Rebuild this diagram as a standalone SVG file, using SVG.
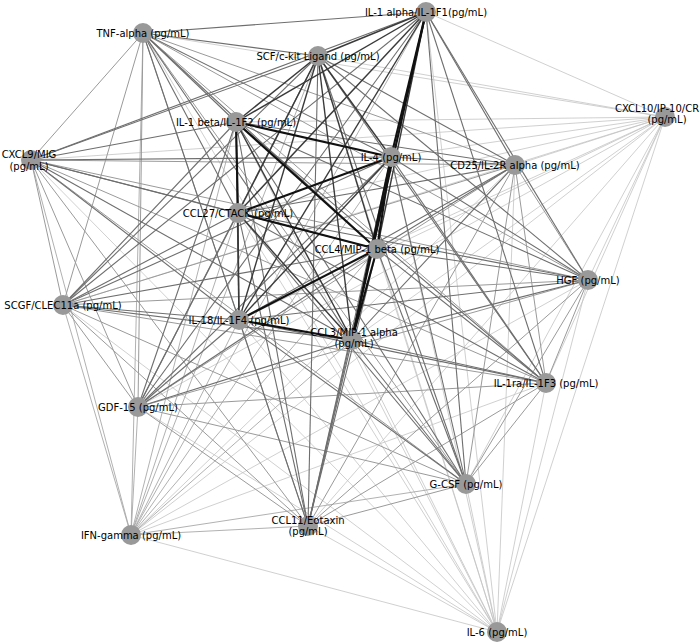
<svg xmlns="http://www.w3.org/2000/svg" width="700" height="644" viewBox="0 0 700 644">
<style>
.e0{stroke:#c4c4c4;stroke-width:0.8}
.ef{stroke:#a8a8a8;stroke-width:0.9}
.e1{stroke:#9a9a9a;stroke-width:1}
.e2{stroke:#6e6e6e;stroke-width:1.1}
.e3{stroke:#3a3a3a;stroke-width:1.4}
.e4{stroke:#111;stroke-width:2.1}
.n circle{fill:#999}
text{font-family:"DejaVu Sans","Liberation Sans",sans-serif;font-size:10px;fill:#000;text-anchor:middle}
</style>
<rect width="700" height="644" fill="#fff"/>
<g id="connectors">
<g class="e0">
<line x1="665" y1="117" x2="143" y2="33"/><line x1="665" y1="117" x2="426" y2="12"/><line x1="665" y1="117" x2="318" y2="56"/><line x1="665" y1="117" x2="236" y2="122"/><line x1="665" y1="117" x2="31" y2="160"/><line x1="665" y1="117" x2="391" y2="157"/><line x1="665" y1="117" x2="515" y2="165"/><line x1="665" y1="117" x2="238" y2="213"/><line x1="665" y1="117" x2="377" y2="249"/><line x1="665" y1="117" x2="588" y2="280"/><line x1="665" y1="117" x2="63" y2="305"/><line x1="665" y1="117" x2="239" y2="320"/><line x1="665" y1="117" x2="352" y2="340"/><line x1="665" y1="117" x2="546" y2="383"/><line x1="665" y1="117" x2="138" y2="407"/><line x1="665" y1="117" x2="466" y2="484"/><line x1="665" y1="117" x2="131" y2="535"/><line x1="665" y1="117" x2="308" y2="526"/><line x1="665" y1="117" x2="497" y2="632"/>
<line x1="497" y1="632" x2="143" y2="33"/><line x1="497" y1="632" x2="426" y2="12"/><line x1="497" y1="632" x2="318" y2="56"/><line x1="497" y1="632" x2="236" y2="122"/><line x1="497" y1="632" x2="31" y2="160"/><line x1="497" y1="632" x2="391" y2="157"/><line x1="497" y1="632" x2="515" y2="165"/><line x1="497" y1="632" x2="238" y2="213"/><line x1="497" y1="632" x2="377" y2="249"/><line x1="497" y1="632" x2="588" y2="280"/><line x1="497" y1="632" x2="63" y2="305"/><line x1="497" y1="632" x2="239" y2="320"/><line x1="497" y1="632" x2="352" y2="340"/><line x1="497" y1="632" x2="546" y2="383"/><line x1="497" y1="632" x2="138" y2="407"/><line x1="497" y1="632" x2="466" y2="484"/><line x1="497" y1="632" x2="308" y2="526"/>
<line x1="131" y1="535" x2="497" y2="632"/><line x1="131" y1="535" x2="546" y2="383"/><line x1="131" y1="535" x2="588" y2="280"/><line x1="131" y1="535" x2="515" y2="165"/>
</g>
<g class="ef">
<line x1="131" y1="535" x2="143" y2="33"/><line x1="131" y1="535" x2="426" y2="12"/><line x1="131" y1="535" x2="318" y2="56"/><line x1="131" y1="535" x2="236" y2="122"/><line x1="131" y1="535" x2="31" y2="160"/><line x1="131" y1="535" x2="391" y2="157"/><line x1="131" y1="535" x2="238" y2="213"/><line x1="131" y1="535" x2="377" y2="249"/><line x1="131" y1="535" x2="63" y2="305"/><line x1="131" y1="535" x2="239" y2="320"/><line x1="131" y1="535" x2="352" y2="340"/><line x1="131" y1="535" x2="138" y2="407"/><line x1="131" y1="535" x2="466" y2="484"/><line x1="131" y1="535" x2="308" y2="526"/>
</g>
<g class="e1">
<line x1="143" y1="33" x2="31" y2="160"/><line x1="143" y1="33" x2="515" y2="165"/><line x1="143" y1="33" x2="588" y2="280"/><line x1="143" y1="33" x2="63" y2="305"/><line x1="143" y1="33" x2="546" y2="383"/><line x1="143" y1="33" x2="138" y2="407"/><line x1="143" y1="33" x2="466" y2="484"/><line x1="143" y1="33" x2="308" y2="526"/>
<line x1="31" y1="160" x2="515" y2="165"/><line x1="31" y1="160" x2="588" y2="280"/><line x1="31" y1="160" x2="63" y2="305"/><line x1="31" y1="160" x2="546" y2="383"/><line x1="31" y1="160" x2="138" y2="407"/><line x1="31" y1="160" x2="466" y2="484"/><line x1="31" y1="160" x2="308" y2="526"/>
<line x1="515" y1="165" x2="588" y2="280"/><line x1="515" y1="165" x2="63" y2="305"/><line x1="515" y1="165" x2="546" y2="383"/><line x1="515" y1="165" x2="138" y2="407"/><line x1="515" y1="165" x2="466" y2="484"/><line x1="515" y1="165" x2="308" y2="526"/>
<line x1="588" y1="280" x2="63" y2="305"/><line x1="588" y1="280" x2="546" y2="383"/><line x1="588" y1="280" x2="138" y2="407"/><line x1="588" y1="280" x2="466" y2="484"/><line x1="588" y1="280" x2="308" y2="526"/>
<line x1="63" y1="305" x2="546" y2="383"/><line x1="63" y1="305" x2="138" y2="407"/><line x1="63" y1="305" x2="466" y2="484"/><line x1="63" y1="305" x2="308" y2="526"/>
<line x1="546" y1="383" x2="138" y2="407"/><line x1="546" y1="383" x2="466" y2="484"/><line x1="546" y1="383" x2="308" y2="526"/>
<line x1="138" y1="407" x2="466" y2="484"/><line x1="138" y1="407" x2="308" y2="526"/>
<line x1="466" y1="484" x2="308" y2="526"/>
</g>
<g class="e2">
<line x1="426" y1="12" x2="143" y2="33"/><line x1="426" y1="12" x2="31" y2="160"/><line x1="426" y1="12" x2="515" y2="165"/><line x1="426" y1="12" x2="588" y2="280"/><line x1="426" y1="12" x2="63" y2="305"/><line x1="426" y1="12" x2="546" y2="383"/><line x1="426" y1="12" x2="138" y2="407"/><line x1="426" y1="12" x2="466" y2="484"/><line x1="426" y1="12" x2="308" y2="526"/>
<line x1="318" y1="56" x2="143" y2="33"/><line x1="318" y1="56" x2="31" y2="160"/><line x1="318" y1="56" x2="515" y2="165"/><line x1="318" y1="56" x2="588" y2="280"/><line x1="318" y1="56" x2="63" y2="305"/><line x1="318" y1="56" x2="546" y2="383"/><line x1="318" y1="56" x2="138" y2="407"/><line x1="318" y1="56" x2="466" y2="484"/><line x1="318" y1="56" x2="308" y2="526"/>
<line x1="236" y1="122" x2="143" y2="33"/><line x1="236" y1="122" x2="31" y2="160"/><line x1="236" y1="122" x2="515" y2="165"/><line x1="236" y1="122" x2="588" y2="280"/><line x1="236" y1="122" x2="63" y2="305"/><line x1="236" y1="122" x2="546" y2="383"/><line x1="236" y1="122" x2="138" y2="407"/><line x1="236" y1="122" x2="466" y2="484"/><line x1="236" y1="122" x2="308" y2="526"/>
<line x1="391" y1="157" x2="143" y2="33"/><line x1="391" y1="157" x2="31" y2="160"/><line x1="391" y1="157" x2="515" y2="165"/><line x1="391" y1="157" x2="588" y2="280"/><line x1="391" y1="157" x2="63" y2="305"/><line x1="391" y1="157" x2="546" y2="383"/><line x1="391" y1="157" x2="138" y2="407"/><line x1="391" y1="157" x2="466" y2="484"/><line x1="391" y1="157" x2="308" y2="526"/>
<line x1="238" y1="213" x2="143" y2="33"/><line x1="238" y1="213" x2="31" y2="160"/><line x1="238" y1="213" x2="515" y2="165"/><line x1="238" y1="213" x2="588" y2="280"/><line x1="238" y1="213" x2="63" y2="305"/><line x1="238" y1="213" x2="546" y2="383"/><line x1="238" y1="213" x2="138" y2="407"/><line x1="238" y1="213" x2="466" y2="484"/><line x1="238" y1="213" x2="308" y2="526"/>
<line x1="377" y1="249" x2="143" y2="33"/><line x1="377" y1="249" x2="31" y2="160"/><line x1="377" y1="249" x2="515" y2="165"/><line x1="377" y1="249" x2="588" y2="280"/><line x1="377" y1="249" x2="63" y2="305"/><line x1="377" y1="249" x2="546" y2="383"/><line x1="377" y1="249" x2="138" y2="407"/><line x1="377" y1="249" x2="466" y2="484"/><line x1="377" y1="249" x2="308" y2="526"/>
<line x1="239" y1="320" x2="143" y2="33"/><line x1="239" y1="320" x2="31" y2="160"/><line x1="239" y1="320" x2="515" y2="165"/><line x1="239" y1="320" x2="588" y2="280"/><line x1="239" y1="320" x2="63" y2="305"/><line x1="239" y1="320" x2="546" y2="383"/><line x1="239" y1="320" x2="138" y2="407"/><line x1="239" y1="320" x2="466" y2="484"/><line x1="239" y1="320" x2="308" y2="526"/>
<line x1="352" y1="340" x2="143" y2="33"/><line x1="352" y1="340" x2="31" y2="160"/><line x1="352" y1="340" x2="515" y2="165"/><line x1="352" y1="340" x2="588" y2="280"/><line x1="352" y1="340" x2="63" y2="305"/><line x1="352" y1="340" x2="546" y2="383"/><line x1="352" y1="340" x2="138" y2="407"/><line x1="352" y1="340" x2="466" y2="484"/><line x1="352" y1="340" x2="308" y2="526"/>
</g>
<g class="e3">
<line x1="426" y1="12" x2="318" y2="56"/><line x1="426" y1="12" x2="236" y2="122"/><line x1="426" y1="12" x2="238" y2="213"/><line x1="426" y1="12" x2="239" y2="320"/><line x1="426" y1="12" x2="377" y2="249"/>
<line x1="318" y1="56" x2="236" y2="122"/><line x1="318" y1="56" x2="391" y2="157"/><line x1="318" y1="56" x2="238" y2="213"/><line x1="318" y1="56" x2="377" y2="249"/><line x1="318" y1="56" x2="239" y2="320"/><line x1="318" y1="56" x2="352" y2="340"/>
<line x1="236" y1="122" x2="239" y2="320"/><line x1="236" y1="122" x2="352" y2="340"/>
<line x1="391" y1="157" x2="239" y2="320"/>
<line x1="238" y1="213" x2="239" y2="320"/><line x1="238" y1="213" x2="352" y2="340"/>
</g>
<g class="e4">
<line x1="426" y1="12" x2="391" y2="157"/><line x1="426" y1="12" x2="352" y2="340"/>
<line x1="391" y1="157" x2="352" y2="340"/><line x1="391" y1="157" x2="377" y2="249"/><line x1="391" y1="157" x2="238" y2="213"/>
<line x1="238" y1="213" x2="377" y2="249"/><line x1="236" y1="122" x2="238" y2="213"/><line x1="236" y1="122" x2="391" y2="157"/>
<line x1="377" y1="249" x2="352" y2="340"/><line x1="377" y1="249" x2="239" y2="320"/><line x1="239" y1="320" x2="352" y2="340"/><line x1="236" y1="122" x2="377" y2="249"/>
</g>
</g>
<g id="nodes">
<g id="tnf" class="n"><circle cx="143" cy="33" r="10"/><text x="143" y="37">TNF-alpha (pg/mL)</text></g>
<g id="il1a" class="n"><circle cx="426" cy="12" r="10"/><text x="426" y="16">IL-1 alpha/IL-1F1(pg/mL)</text></g>
<g id="scf" class="n"><circle cx="318" cy="56" r="10"/><text x="318" y="60">SCF/c-kit Ligand (pg/mL)</text></g>
<g id="cxcl10" class="n"><circle cx="665" cy="117" r="10"/><text x="615" y="112" style="text-anchor:start">CXCL10/IP-10/CR</text><text x="667" y="123">(pg/mL)</text></g>
<g id="il1b" class="n"><circle cx="236" cy="122" r="10"/><text x="236" y="126">IL-1 beta/IL-1F2 (pg/mL)</text></g>
<g id="cxcl9" class="n"><circle cx="31" cy="160" r="10"/><text x="29" y="158">CXCL9/MIG</text><text x="29" y="169.5">(pg/mL)</text></g>
<g id="il4" class="n"><circle cx="391" cy="157" r="10"/><text x="391" y="161">IL-4 (pg/mL)</text></g>
<g id="cd25" class="n"><circle cx="515" cy="165" r="10"/><text x="515" y="169">CD25/IL-2R alpha (pg/mL)</text></g>
<g id="ccl27" class="n"><circle cx="238" cy="213" r="10"/><text x="238" y="217">CCL27/CTACK (pg/mL)</text></g>
<g id="ccl4" class="n"><circle cx="377" cy="249" r="10"/><text x="377" y="253">CCL4/MIP-1 beta (pg/mL)</text></g>
<g id="hgf" class="n"><circle cx="588" cy="280" r="10"/><text x="588" y="284">HGF (pg/mL)</text></g>
<g id="scgf" class="n"><circle cx="63" cy="305" r="10"/><text x="63" y="309">SCGF/CLEC11a (pg/mL)</text></g>
<g id="il18" class="n"><circle cx="239" cy="320" r="10"/><text x="239" y="324">IL-18/IL-1F4 (pg/mL)</text></g>
<g id="ccl3" class="n"><circle cx="352" cy="340" r="10"/><text x="354" y="335.5">CCL3/MIP-1 alpha</text><text x="354" y="347">(pg/mL)</text></g>
<g id="il1ra" class="n"><circle cx="546" cy="383" r="10"/><text x="546" y="387">IL-1ra/IL-1F3 (pg/mL)</text></g>
<g id="gdf15" class="n"><circle cx="138" cy="407" r="10"/><text x="138" y="411">GDF-15 (pg/mL)</text></g>
<g id="gcsf" class="n"><circle cx="466" cy="484" r="10"/><text x="466" y="488">G-CSF (pg/mL)</text></g>
<g id="ifng" class="n"><circle cx="131" cy="535" r="10"/><text x="131" y="539">IFN-gamma (pg/mL)</text></g>
<g id="ccl11" class="n"><circle cx="308" cy="526" r="10"/><text x="308" y="523.5">CCL11/Eotaxin</text><text x="308" y="535">(pg/mL)</text></g>
<g id="il6" class="n"><circle cx="497" cy="632" r="10"/><text x="497" y="636">IL-6 (pg/mL)</text></g>
</g>
</svg>
